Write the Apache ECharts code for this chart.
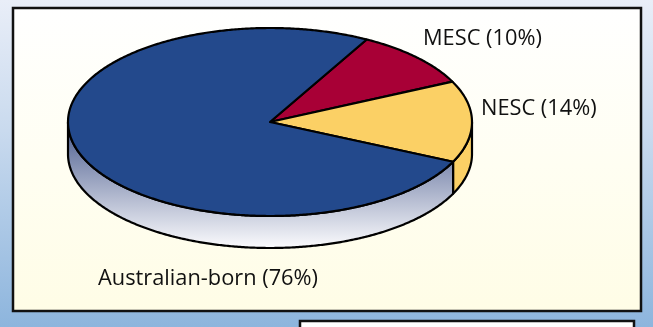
<!DOCTYPE html>
<html><head><meta charset="utf-8">
<style>html,body{margin:0;padding:0;background:#fff}#c{width:653px;height:327px}</style>
<script src="https://cdn.jsdelivr.net/npm/echarts@6/dist/echarts.min.js"></script>
</head><body><div id="c"></div>
<script>
var categories = ['MESC', 'NESC', 'Australian-born'];
var shares = [10, 14, 76];
var sliceColors = ['#a80036', '#fbd065', '#23498c'];
var labelTexts = ['MESC (10%)', 'NESC (14%)', 'Australian-born (76%)'];
var labelSpots = [[423, 38.5], [481, 108.5], [98, 278.5]];

var cx = 270, cy = 122, rx = 202, ry = 94, depth = 32;
var startDeg = 61.4;
var total = shares.reduce(function (a, b) { return a + b; }, 0);
var line = { stroke: '#000', lineWidth: 2.2, lineJoin: 'round' };
var wallGrad = new echarts.graphic.LinearGradient(0, 122, 0, 248, [
  { offset: 0, color: '#47598c' }, { offset: 1, color: '#fbfbfd' }], true);
wallGrad.global = true;

function pt(deg, dy) {
  var a = deg * Math.PI / 180;
  return [cx + rx * Math.cos(a), cy - ry * Math.sin(a) + (dy || 0)];
}
function arc(from, to, dy) {
  var out = [], n = Math.max(2, Math.ceil(Math.abs(to - from) * 2));
  for (var i = 0; i <= n; i++) out.push(pt(from + (to - from) * i / n, dy));
  return out;
}
function angles(idx) {
  var before = 0;
  for (var i = 0; i < idx; i++) before += shares[i];
  return [startDeg - before / total * 360, startDeg - (before + shares[idx]) / total * 360];
}
function wall(s, e) {
  var a = Math.min(s, 0), b = Math.max(e, -180);
  if (a <= b) return null;
  return arc(a, b, 0).concat(arc(b, a, depth));
}
var chart = echarts.init(document.getElementById('c'), null, { renderer: 'canvas' });
chart.setOption({
  animation: false,
  backgroundColor: new echarts.graphic.LinearGradient(0, 0, 0, 1, [
    { offset: 0, color: '#e9eef8' }, { offset: 0.4, color: '#c9daee' }, { offset: 1, color: '#8db5dd' }]),
  graphic: { elements: [
    { type: 'rect', z: 0, shape: { x: 13, y: 8, width: 628, height: 303 },
      style: { stroke: '#111', lineWidth: 2.5,
        fill: new echarts.graphic.LinearGradient(0, 0, 0, 1, [
          { offset: 0, color: '#ffffff' }, { offset: 1, color: '#fffde6' }]) } },
    { type: 'rect', z: 0, shape: { x: 300, y: 321, width: 334, height: 20 },
      style: { stroke: '#111', lineWidth: 2.5, fill: '#fff' } }
  ].concat(labelTexts.map(function (t, i) {
    return { type: 'text', z: 10, x: labelSpots[i][0], y: labelSpots[i][1],
      style: { text: t, fill: '#111', font: '21.8px "Open Sans"', verticalAlign: 'middle' } };
  })) },
  series: [{
    type: 'custom', coordinateSystem: 'none', silent: true, z: 5,
    data: categories.map(function (c, i) { return { name: c, value: shares[i] }; }),
    renderItem: function (params) {
      var i = params.dataIndex, g = angles(i), kids = [];
      var w = wall(g[0], g[1]);
      if (w) kids.push({ type: 'polygon', z2: 1, shape: { points: w },
        style: Object.assign({ fill: i === 2 ? wallGrad : sliceColors[i] }, line) });
      kids.push({ type: 'polygon', z2: 2,
        shape: { points: [[cx, cy]].concat(arc(g[0], g[1], 0)) },
        style: Object.assign({ fill: sliceColors[i] }, line) });
      return { type: 'group', children: kids };
    }
  }]
});
</script></body></html>
